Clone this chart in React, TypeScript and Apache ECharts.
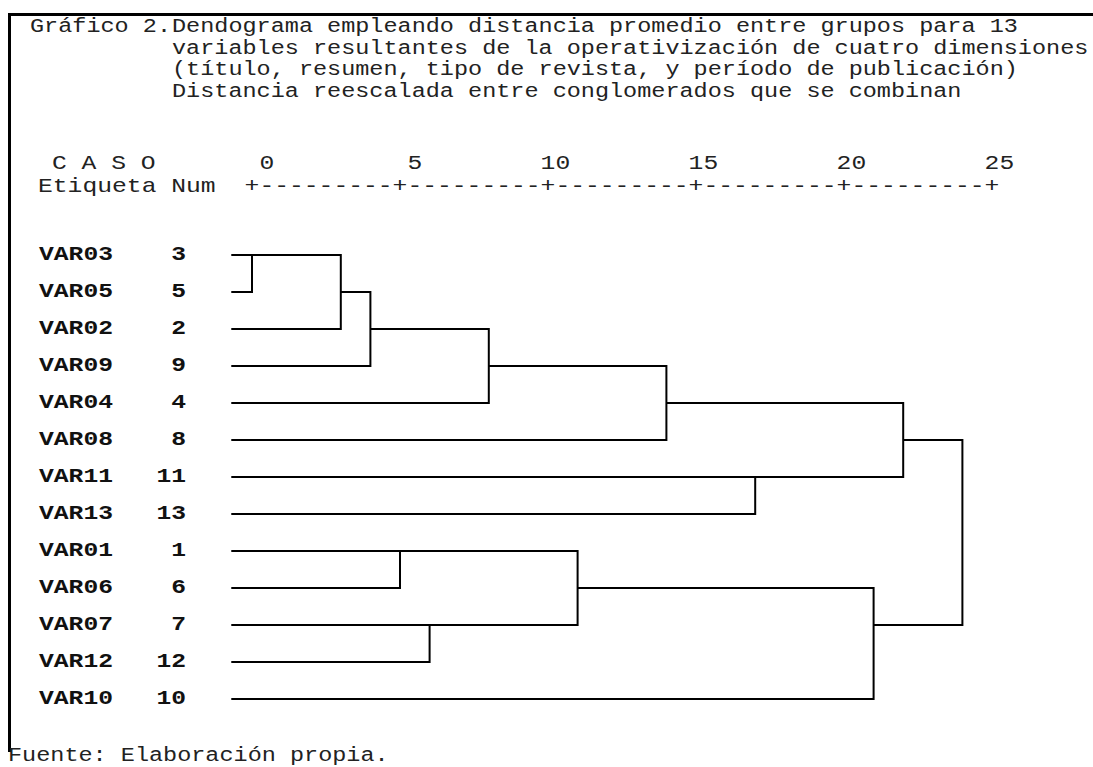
import React, { useEffect, useRef } from "react";
import * as echarts from "echarts";

// ---------- texts ----------
const TITLE_LEAD = "Gráfico 2.";
const TITLE_LINES = [
  "Dendograma empleando distancia promedio entre grupos para 13",
  "variables resultantes de la operativización de cuatro dimensiones",
  "(título, resumen, tipo de revista, y período de publicación)",
  "Distancia reescalada entre conglomerados que se combinan",
];
const HEADER_CASE = "C A S O";
const HEADER_LABEL = "Etiqueta Num";
const FOOTER = "Fuente: Elaboración propia.";

// ---------- data ----------
// leaves in the order they are drawn (top to bottom)
const LEAF_LABELS = ["VAR03", "VAR05", "VAR02", "VAR09", "VAR04", "VAR08", "VAR11", "VAR13", "VAR01", "VAR06", "VAR07", "VAR12", "VAR10"];
const LEAF_NUMS = [3, 5, 2, 9, 4, 8, 11, 13, 1, 6, 7, 12, 10];

// agglomeration steps: positive = case number, negative = -(step number)
const MERGE_A = [3, -1, -2, 1, 7, -3, -4, -6, 11, -7, -8, -11];
const MERGE_B = [5, 2, 9, 6, 12, 4, -5, 8, 13, 10, -9, -10];
const MERGE_DIST = [0, 3, 4, 5, 6, 8, 11, 14, 17, 21, 22, 24];

// rescaled distance scale
const TICKS = [0, 5, 10, 15, 20, 25];

// ---------- layout constants ----------
const FONT = "'Liberation Mono', 'DejaVu Sans Mono', monospace";
const LEAF_START = -0.7;
const X_MIN = -1;
const X_MAX = 25;
const GRID_LEFT = 222.4;
const GRID_TOP = 236.5;
const GRID_W = 769.6;
const GRID_H = 481;

const BODY_FONT = 21; // dendrogram labels & ruler
const BODY_PITCH = 14.8; // px per character in reference
const BODY_SX = BODY_PITCH / (BODY_FONT * 0.6);
const TITLE_FONT = 20;
const TITLE_PITCH = 14.1;
const TITLE_SX = TITLE_PITCH / (TITLE_FONT * 0.6);

const TICK_LABEL_Y = 164;
const RULER_Y = 187;
const TITLE_Y0 = 27;
const TITLE_DY = 21.7;

function buildLinks() {
  const pos: { x: number; row: number }[] = [];
  const resolve = (ref: number) =>
    ref > 0 ? { x: LEAF_START, row: LEAF_NUMS.indexOf(ref) } : pos[-ref - 1];
  const links: number[][][] = [];
  for (let i = 0; i < MERGE_DIST.length; i++) {
    const a = resolve(MERGE_A[i]);
    const b = resolve(MERGE_B[i]);
    const d = MERGE_DIST[i];
    links.push([
      [a.x, a.row],
      [d, a.row],
      [d, b.row],
      [b.x, b.row],
    ]);
    pos.push({ x: d, row: Math.floor((a.row + b.row) / 2) });
  }
  return links;
}

function txt(text: string, x: number, y: number, size: number, sx: number, align = "left", fill = "#111", weight = "normal") {
  return {
    type: "text",
    x,
    y,
    scaleX: sx,
    style: { text, font: `${weight} ${size}px ${FONT}`, fill, align, verticalAlign: "middle" },
  };
}

export default function App() {
  const ref = useRef<HTMLDivElement>(null);

  useEffect(() => {
    if (!ref.current) return;
    const chart = echarts.init(ref.current, null, { renderer: "svg" });
    const links = buildLinks();

    const titleTexts: any[] = [
      txt(TITLE_LEAD, 30, TITLE_Y0, TITLE_FONT, TITLE_SX, "left", "#222"),
      ...TITLE_LINES.map((t, i) => txt(t, 172, TITLE_Y0 + i * TITLE_DY, TITLE_FONT, TITLE_SX, "left", "#222")),
    ];

    chart.setOption({
      animation: false,
      backgroundColor: "#fff",
      grid: { left: GRID_LEFT, top: GRID_TOP, width: GRID_W, height: GRID_H, containLabel: false },
      xAxis: { type: "value", min: X_MIN, max: X_MAX, show: false },
      yAxis: { type: "category", data: LEAF_LABELS, inverse: true, show: false },
      graphic: [
        { type: "line", shape: { x1: 8, y1: 14.5, x2: 1093, y2: 14.5 }, style: { stroke: "#000", lineWidth: 3 } },
        { type: "line", shape: { x1: 9.5, y1: 13, x2: 9.5, y2: 752 }, style: { stroke: "#000", lineWidth: 3 } },
        ...titleTexts,
        txt(HEADER_CASE, 52, TICK_LABEL_Y, BODY_FONT, BODY_SX, "left", "#222"),
        txt(HEADER_LABEL, 38, RULER_Y, BODY_FONT, BODY_SX, "left", "#222"),
        txt(FOOTER, 8, 756, TITLE_FONT, TITLE_SX, "left", "#222"),
      ],
      series: [
        {
          type: "custom",
          name: "dendrograma",
          clip: false,
          data: MERGE_DIST.map((d, i) => [d, i]),
          renderItem: (params: any, api: any) => {
            const pts = links[params.dataIndex].map((p) => api.coord(p));
            return {
              type: "polyline",
              shape: { points: pts },
              style: { stroke: "#000", lineWidth: 2, fill: "none" },
            };
          },
        },
        {
          type: "custom",
          name: "casos",
          clip: false,
          data: LEAF_LABELS.map((_, i) => [LEAF_START, i]),
          renderItem: (params: any, api: any) => {
            const i = params.dataIndex;
            const y = api.coord([LEAF_START, i])[1];
            return {
              type: "group",
              children: [
                txt(LEAF_LABELS[i], 39, y, BODY_FONT, BODY_SX, "left", "#111", "bold"),
                txt(String(LEAF_NUMS[i]), 186, y, BODY_FONT, BODY_SX, "right", "#111", "bold"),
              ],
            };
          },
        },
        {
          type: "custom",
          name: "escala",
          clip: false,
          data: TICKS.map((t) => [t, 0]),
          renderItem: (params: any, api: any) => {
            const v = api.value(0);
            const x = api.coord([v, 0])[0];
            const last = params.dataIndex === TICKS.length - 1;
            return {
              type: "group",
              children: [
                txt(String(v), x + 1.5 * BODY_PITCH, TICK_LABEL_Y, BODY_FONT, BODY_SX, "right", "#222"),
                txt(last ? "+" : "+---------", x - BODY_PITCH / 2, RULER_Y, BODY_FONT, BODY_SX, "left", "#222"),
              ],
            };
          },
        },
      ],
    });

    return () => chart.dispose();
  }, []);

  return (
    <div
      ref={ref}
      style={{ position: "fixed", left: 0, top: 0, width: 1093, height: 767, background: "#fff" }}
    />
  );
}
